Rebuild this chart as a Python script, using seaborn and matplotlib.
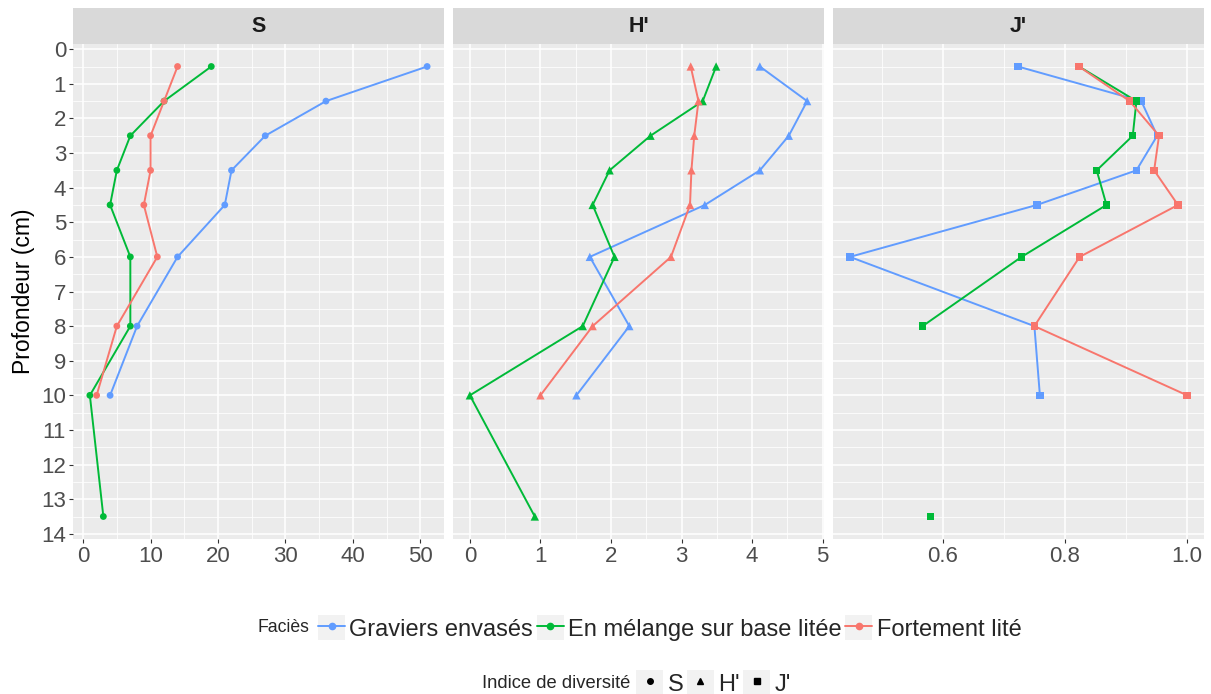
import numpy as np
import pandas as pd
import seaborn as sns
import matplotlib
matplotlib.use('Agg')
from matplotlib import pyplot as plt
from matplotlib.lines import Line2D
from matplotlib.patches import Rectangle
from matplotlib.ticker import MultipleLocator, FormatStrFormatter

W, H = 1211, 694

DEPTH = [0.5, 1.5, 2.5, 3.5, 4.5, 6, 8, 10, 13.5]
FACIES = ['Graviers envasés', 'En mélange sur base litée', 'Fortement lité']
COLORS = ['#619CFF', '#00BA38', '#F8766D']
INDICES = ['S', "H'", "J'"]
MARKERS = ['o', '^', 's']
nan = np.nan

# S (richesse)
S_GRAVIERS = [51, 36, 27, 22, 21, 14, 8, 4, nan]
S_MELANGE = [19, 12, 7, 5, 4, 7, 7, 1, 3]
S_FORTEMENT = [14, 12, 10, 10, 9, 11, 5, 2, nan]

# H' (Shannon)
H_GRAVIERS = [4.11, 4.78, 4.52, 4.11, 3.33, 1.70, 2.26, 1.51, nan]
H_MELANGE = [3.49, 3.30, 2.56, 1.98, 1.74, 2.05, 1.60, 0.00, 0.92]
H_FORTEMENT = [3.13, 3.24, 3.18, 3.14, 3.12, 2.85, 1.74, 1.00, nan]

# J' (Pielou)
J_GRAVIERS = [0.723, 0.925, 0.951, 0.917, 0.754, 0.448, 0.750, 0.759, nan]
J_MELANGE = [0.823, 0.917, 0.911, 0.852, 0.868, 0.729, 0.567, nan, 0.580]
J_FORTEMENT = [0.823, 0.906, 0.954, 0.946, 0.985, 0.824, 0.750, 1.000, nan]

SERIES = {
    'S': [S_GRAVIERS, S_MELANGE, S_FORTEMENT],
    "H'": [H_GRAVIERS, H_MELANGE, H_FORTEMENT],
    "J'": [J_GRAVIERS, J_MELANGE, J_FORTEMENT],
}
X_STEP = {'S': (10, 5), "H'": (1, 0.5), "J'": (0.2, 0.1)}


def long_table():
    rows = []
    for idx in INDICES:
        for fac, vals in zip(FACIES, SERIES[idx]):
            seg = 0
            for d, v in zip(DEPTH, vals):
                # a missing value breaks the line
                if np.isnan(v):
                    seg += 1
                    continue
                rows.append({'indice': idx, 'facies': fac, 'segment': seg,
                             'profondeur': d, 'valeur': v})
    return pd.DataFrame(rows)


sns.set_theme(style='darkgrid')
plt.rcParams['font.family'] = ['Liberation Sans', 'DejaVu Sans']

df = long_table()
palette = dict(zip(FACIES, COLORS))

fig = plt.figure(figsize=(W / 100, H / 100), dpi=100)
fig.patch.set_facecolor('white')

lefts = [73, 453, 833]
pw, top, bottom = 371, 44, 539

for i, idx in enumerate(INDICES):
    ax = fig.add_axes([lefts[i] / W, 1 - bottom / H, pw / W, (bottom - top) / H])
    sub = df[df['indice'] == idx]
    sns.lineplot(data=sub, x='valeur', y='profondeur', hue='facies', units='segment',
                 estimator=None, orient='y', sort=True, hue_order=FACIES, palette=palette,
                 legend=False, lw=1.4, ax=ax)
    sns.scatterplot(data=sub, x='valeur', y='profondeur', hue='facies', hue_order=FACIES,
                    palette=palette, marker=MARKERS[i], s=[24, 36, 28][i], linewidth=0,
                    legend=False, ax=ax, zorder=3)

    lo, hi = sub['valeur'].min(), sub['valeur'].max()
    pad = 0.05 * (hi - lo)
    ax.set_xlim(lo - pad, hi + pad)
    ax.set_ylim(14 + 0.15, -0.15)
    major, minor = X_STEP[idx]
    ax.xaxis.set_major_locator(MultipleLocator(major))
    ax.xaxis.set_minor_locator(MultipleLocator(minor))
    if idx == "J'":
        ax.xaxis.set_major_formatter(FormatStrFormatter('%.1f'))
    ax.yaxis.set_major_locator(MultipleLocator(1))
    ax.yaxis.set_minor_locator(MultipleLocator(0.5))

    ax.set_facecolor('#EBEBEB')
    ax.grid(which='major', color='white', lw=1.1)
    ax.grid(which='minor', color='white', lw=0.55)
    ax.set_axisbelow(True)
    for sp in ax.spines.values():
        sp.set_visible(False)
    ax.tick_params(which='major', length=3.2, width=0.8, color='#333333',
                   labelsize=16, labelcolor='#4D4D4D', pad=1.8,
                   bottom=True, left=(i == 0), labelleft=(i == 0))
    ax.tick_params(which='minor', length=0)
    ax.set_xlabel('')
    if i == 0:
        ax.set_ylabel('Profondeur (cm)', fontsize=16.5, color='black')
        ax.yaxis.set_label_coords(-0.102, 0.5)
    else:
        ax.set_ylabel('')

    sh = 36 / (bottom - top)
    ax.add_patch(Rectangle((0, 1), 1, sh, transform=ax.transAxes, facecolor='#D9D9D9',
                           edgecolor='none', clip_on=False))
    ax.text(0.5, 1 + sh / 2, idx, transform=ax.transAxes, ha='center', va='center',
            fontsize=15.5, fontweight='bold', color='#1A1A1A')

# legends
key_bg = lambda: Rectangle((0, 0), 1, 1, facecolor='#F2F2F2', edgecolor='none')
fac_handles = [(key_bg(), Line2D([], [], color=c, lw=1.4, marker='o', markersize=4.5))
               for c in COLORS]
leg1 = fig.legend(fac_handles, FACIES, loc='center left', bbox_to_anchor=(318 / W, 1 - 628 / H),
                  ncol=3, frameon=False, fontsize=17, handlelength=1.15, handleheight=1.25,
                  handletextpad=0.18, columnspacing=0.15, borderaxespad=0, borderpad=0)
fig.text(309 / W, 1 - 628 / H, 'Faciès', ha='right', va='center', fontsize=12.7)

shape_handles = [(key_bg(), Line2D([], [], color='black', lw=0, marker=m, markersize=4))
                 for m in MARKERS]
leg2 = fig.legend(shape_handles, INDICES, loc='center left', bbox_to_anchor=(636 / W, 1 - 683 / H),
                  ncol=3, frameon=False, fontsize=17, handlelength=1.15, handleheight=1.25,
                  handletextpad=0.18, columnspacing=0.15, borderaxespad=0, borderpad=0)
fig.text(630 / W, 1 - 683 / H, 'Indice de diversité', ha='right', va='center', fontsize=13.2)

fig.savefig('out.png', dpi=100)
